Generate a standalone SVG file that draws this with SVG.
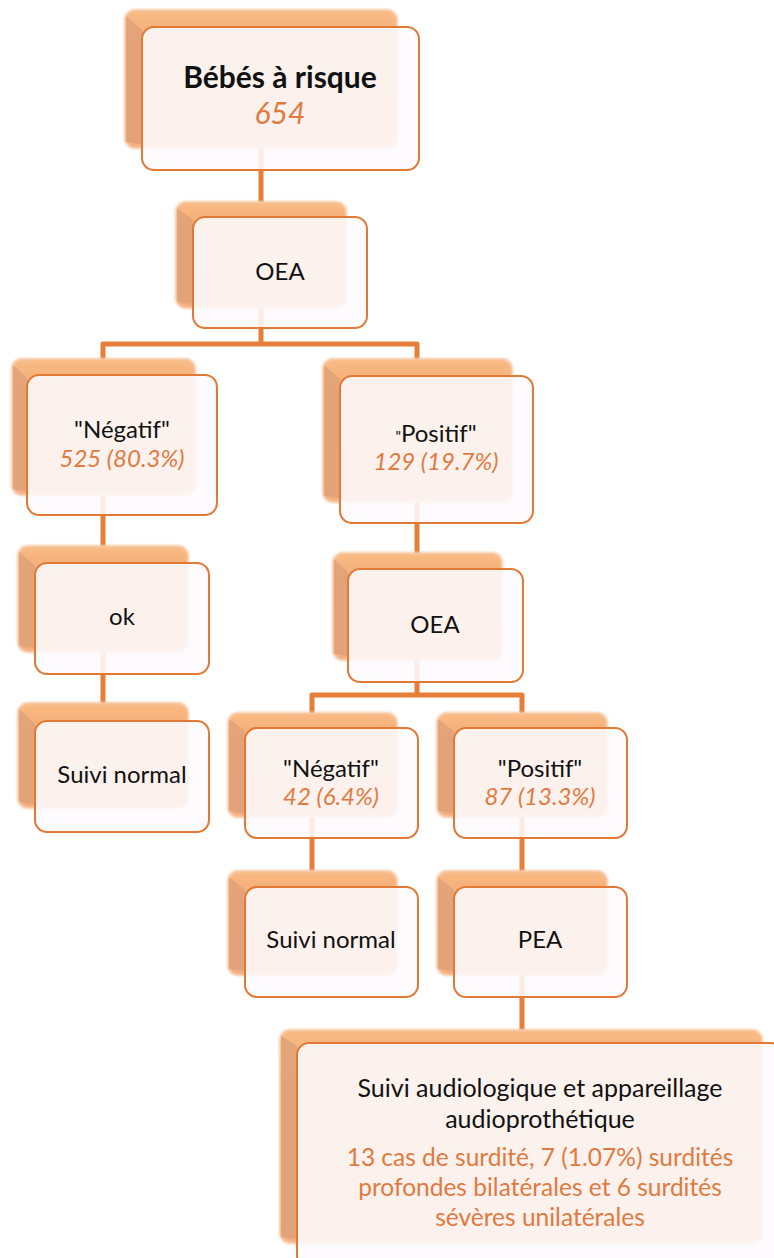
<svg xmlns="http://www.w3.org/2000/svg" width="774" height="1258" viewBox="0 0 774 1258">
<defs>
<linearGradient id="bkg" x1="0" y1="0" x2="0" y2="1">
<stop offset="0" stop-color="#F9BB84"/>
<stop offset="0.15" stop-color="#F6B17B"/>
<stop offset="1" stop-color="#F3AE80"/>
</linearGradient>
<filter id="soft" x="-5%" y="-5%" width="110%" height="110%">
<feGaussianBlur stdDeviation="0.9"/>
</filter>
</defs>
<style>
.bk{fill:url(#bkg);stroke:#F7C9A6;stroke-width:2;filter:url(#soft)}
.bv{fill:#DA9E76;opacity:0.7}
.fr{fill:#FDFAFD;fill-opacity:0.88;stroke:#E27A36;stroke-width:2}
.cn{fill:none;stroke:#E67E38;stroke-width:5;stroke-linejoin:round}
.t{font-family:Lato,"Liberation Sans",sans-serif;font-size:24px;fill:#111;text-anchor:middle}
.n{font-family:Lato,"Liberation Sans",sans-serif;font-size:24px;font-style:italic;fill:#E07A3F;text-anchor:middle}
.b{font-family:Lato,"Liberation Sans",sans-serif;font-size:25px;fill:#111;text-anchor:middle}
.o{font-family:Lato,"Liberation Sans",sans-serif;font-size:24.5px;fill:#E07A3F;text-anchor:middle}
</style>
<g id="connectors">
<path class="cn" d="M261,140 V202"/>
<path class="cn" d="M261,300 V344"/>
<path class="cn" d="M103,359 V344 H417 V359"/>
<path class="cn" d="M103,490 V546"/>
<path class="cn" d="M103,645 V703"/>
<path class="cn" d="M417,495 V553"/>
<path class="cn" d="M417,655 V695"/>
<path class="cn" d="M312,713 V695 H522 V713"/>
<path class="cn" d="M312,810 V871"/>
<path class="cn" d="M522,810 V871"/>
<path class="cn" d="M522,970 V1030"/>
</g>
<g id="n-bebes">
<rect class="bk" x="125" y="10" width="272" height="138" rx="10"/>
<path class="bv" d="M126,16 L142,30 L142,144 L126,142 Z"/>
<rect class="fr" x="142" y="27" width="277" height="143" rx="12"/>
<text class="t" x="280" y="88" style="font-weight:bold;font-size:30px">Bébés à risque</text>
<text class="n" x="280" y="124" style="font-size:30px">654</text>
</g>
<g id="n-oea1">
<rect class="bk" x="176" y="202" width="170" height="106" rx="10"/>
<path class="bv" d="M177,208 L193,220 L193,304 L177,302 Z"/>
<rect class="fr" x="193" y="217" width="174" height="111" rx="12"/>
<text class="t" x="280" y="280">OEA</text>
</g>
<g id="n-neg1">
<rect class="bk" x="12" y="359" width="183" height="136" rx="10"/>
<path class="bv" d="M13,365 L27,378 L27,491 L13,489 Z"/>
<rect class="fr" x="27" y="375" width="190" height="140" rx="12"/>
<text class="t" x="122" y="438">"Négatif"</text>
<text class="n" x="122" y="467">525 (80.3%)</text>
</g>
<g id="n-pos1">
<rect class="bk" x="323" y="359" width="189" height="143" rx="10"/>
<path class="bv" d="M324,365 L340,379 L340,498 L324,496 Z"/>
<rect class="fr" x="340" y="376" width="193" height="147" rx="12"/>
<text class="t" x="436" y="442"><tspan style="font-size:15px">"</tspan>Positif"</text>
<text class="n" x="436" y="470">129 (19.7%)</text>
</g>
<g id="n-ok">
<rect class="bk" x="18" y="546" width="170" height="106" rx="10"/>
<path class="bv" d="M19,552 L35,566 L35,648 L19,646 Z"/>
<rect class="fr" x="35" y="563" width="174" height="111" rx="12"/>
<text class="t" x="122" y="625">ok</text>
</g>
<g id="n-suivi1">
<rect class="bk" x="18" y="703" width="170" height="105" rx="10"/>
<path class="bv" d="M19,709 L35,724 L35,804 L19,802 Z"/>
<rect class="fr" x="35" y="721" width="174" height="111" rx="12"/>
<text class="t" x="122" y="783">Suivi normal</text>
</g>
<g id="n-oea2">
<rect class="bk" x="333" y="553" width="169" height="107" rx="10"/>
<path class="bv" d="M334,559 L348,572 L348,656 L334,654 Z"/>
<rect class="fr" x="348" y="569" width="175" height="113" rx="12"/>
<text class="t" x="435" y="633">OEA</text>
</g>
<g id="n-neg2">
<rect class="bk" x="228" y="713" width="169" height="104" rx="10"/>
<path class="bv" d="M229,719 L245,731 L245,813 L229,811 Z"/>
<rect class="fr" x="245" y="728" width="173" height="110" rx="12"/>
<text class="t" x="331" y="777">"Négatif"</text>
<text class="n" x="331" y="805">42 (6.4%)</text>
</g>
<g id="n-pos2">
<rect class="bk" x="437" y="713" width="170" height="104" rx="10"/>
<path class="bv" d="M438,719 L454,731 L454,813 L438,811 Z"/>
<rect class="fr" x="454" y="728" width="173" height="110" rx="12"/>
<text class="t" x="540" y="777">"Positif"</text>
<text class="n" x="540" y="805">87 (13.3%)</text>
</g>
<g id="n-suivi2">
<rect class="bk" x="228" y="871" width="169" height="104" rx="10"/>
<path class="bv" d="M229,877 L245,890 L245,971 L229,969 Z"/>
<rect class="fr" x="245" y="887" width="173" height="110" rx="12"/>
<text class="t" x="331" y="948">Suivi normal</text>
</g>
<g id="n-pea">
<rect class="bk" x="437" y="871" width="170" height="104" rx="10"/>
<path class="bv" d="M438,877 L454,890 L454,971 L438,969 Z"/>
<rect class="fr" x="454" y="887" width="173" height="110" rx="12"/>
<text class="t" x="540" y="948">PEA</text>
</g>
<g id="n-suivi-audio">
<rect class="bk" x="280" y="1030" width="482" height="213" rx="10"/>
<path class="bv" d="M281,1036 L297,1046 L297,1239 L281,1237 Z"/>
<rect class="fr" x="297" y="1043" width="486" height="225" rx="12"/>
<text class="b" x="540" y="1097">Suivi audiologique et appareillage</text>
<text class="b" x="540" y="1128">audioprothétique</text>
<text class="o" x="540" y="1166">13 cas de surdité, 7 (1.07%) surdités</text>
<text class="o" x="540" y="1196">profondes bilatérales et 6 surdités</text>
<text class="o" x="540" y="1226">sévères unilatérales</text>
</g>
</svg>
